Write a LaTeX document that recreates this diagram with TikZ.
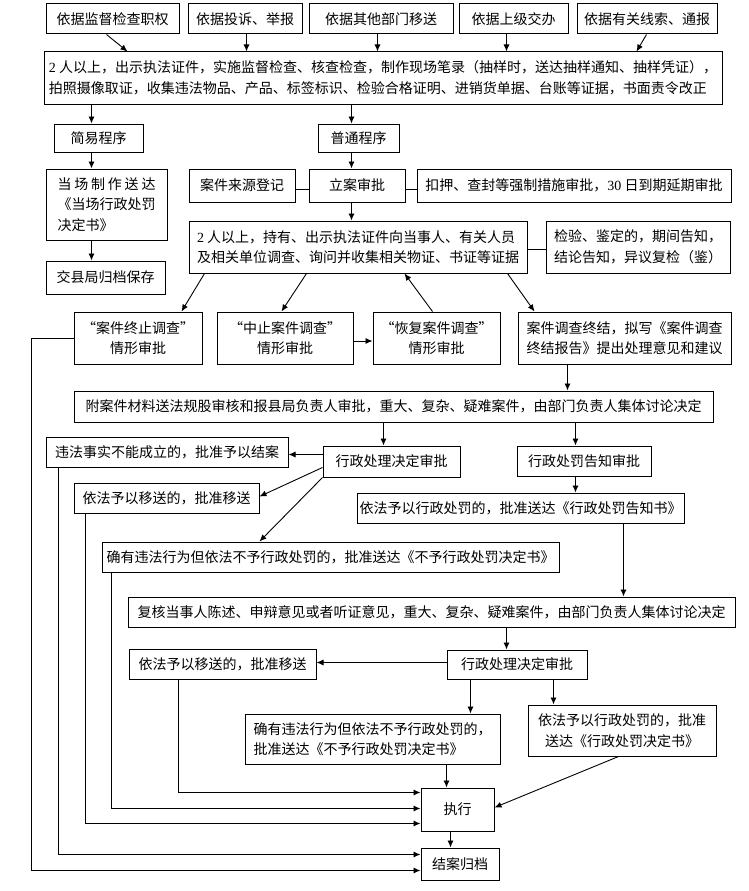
\documentclass[tikz,border=0pt]{standalone}
\usepackage{fontspec}
\setmainfont{Noto Sans CJK SC}
\newfontfamily\numfont{Liberation Serif}
\usetikzlibrary{arrows.meta, positioning, calc}

\begin{document}
\begin{tikzpicture}[
    x=1pt, y=-1pt,
    box/.style={rectangle, draw=black, line width=1pt, inner sep=0pt,
                align=center, font=\fontsize{14pt}{20.5pt}\selectfont},
    arrow/.style={-{Latex[length=7pt,width=6pt]}, line width=0.9pt},
    link/.style={line width=0.9pt}
]
\useasboundingbox[fill=white] (0,0) rectangle (748,891);

% Case sources
\node[box, minimum width=133pt, minimum height=30pt] (src1) at (112.5,19) {依据监督检查职权};
\node[box, minimum width=114pt, minimum height=30pt] (src2) at (245,19) {依据投诉、举报};
\node[box, minimum width=144pt, minimum height=30pt] (src3) at (381,19) {依据其他部门移送};
\node[box, minimum width=109pt, minimum height=30pt] (src4) at (513.5,19) {依据上级交办};
\node[box, minimum width=140pt, minimum height=30pt] (src5) at (647,19) {依据有关线索、通报};

% On-site inspection
\node[box, minimum width=678pt, minimum height=52pt, align=left] (insp) at (383,78)
      {{\numfont 2} 人以上，出示执法证件，实施监督检查、核查检查，制作现场笔录（抽样时，送达抽样通知、抽样凭证），\\
       拍照摄像取证，收集违法物品、产品、标签标识、检验合格证明、进销货单据、台账等证据，书面责令改正};

% Simple procedure
\node[box, minimum width=89pt, minimum height=28pt] (simple) at (98.5,138) {简易程序};
\node[box, minimum width=121pt, minimum height=71pt, align=left] (onsite) at (106.5,204.5)
      {\makebox[7em]{当\hfill 场\hfill 制\hfill 作\hfill 送\hfill 达}\\《当场行政处罚\\决定书》};
\node[box, minimum width=119pt, minimum height=33pt] (archive) at (105.5,277.5) {交县局归档保存};

% Normal procedure
\node[box, minimum width=81pt, minimum height=28pt] (normal) at (358.5,138) {普通程序};
\node[box, minimum width=106pt, minimum height=33pt] (source) at (242,185.5) {案件来源登记};
\node[box, minimum width=96pt, minimum height=33pt] (filing) at (357,185.5) {立案审批};
\node[box, minimum width=314pt, minimum height=33pt] (seize) at (574,185.5)
      {扣押、查封等强制措施审批，{\numfont 30} 日到期延期审批};
\node[box, minimum width=338pt, minimum height=52pt, align=left] (investigate) at (358,247)
      {{\numfont 2} 人以上，持有、出示执法证件向当事人、有关人员\\及相关单位调查、询问并收集相关物证、书证等证据};
\node[box, minimum width=184pt, minimum height=52pt, align=left] (testing) at (638,247)
      {检验、鉴定的，期间告知，\\结论告知，异议复检（鉴）};

% Investigation outcomes
\node[box, minimum width=128pt, minimum height=52pt] (terminate) at (138,338) {“案件终止调查”\\情形审批};
\node[box, minimum width=136pt, minimum height=52pt] (suspend) at (285,338) {“中止案件调查”\\情形审批};
\node[box, minimum width=127pt, minimum height=52pt] (resume) at (436.5,338) {“恢复案件调查”\\情形审批};
\node[box, minimum width=213pt, minimum height=52pt, align=left] (conclude) at (624.5,338)
      {案件调查终结，拟写《案件调查\\终结报告》提出处理意见和建议};

% Review and decisions
\node[box, minimum width=639pt, minimum height=31pt] (review) at (393.5,406.5)
      {附案件材料送法规股审核和报县局负责人审批，重大、复杂、疑难案件，由部门负责人集体讨论决定};
\node[box, minimum width=242pt, minimum height=30pt] (nofact) at (167,452) {违法事实不能成立的，批准予以结案};
\node[box, minimum width=137pt, minimum height=31pt] (decideA) at (391.5,461.5) {行政处理决定审批};
\node[box, minimum width=134pt, minimum height=30pt] (notice) at (584,461) {行政处罚告知审批};
\node[box, minimum width=185pt, minimum height=30pt] (transferA) at (166.5,498) {依法予以移送的，批准移送};
\node[box, minimum width=327pt, minimum height=30pt] (noticebook) at (520.5,508)
      {依法予以行政处罚的，批准送达《行政处罚告知书》};
\node[box, minimum width=457pt, minimum height=30pt] (nopenaltyA) at (330.5,557)
      {确有违法行为但依法不予行政处罚的，批准送达《不予行政处罚决定书》};

% After hearing
\node[box, minimum width=607pt, minimum height=30pt] (recheck) at (431.5,612)
      {复核当事人陈述、申辩意见或者听证意见，重大、复杂、疑难案件，由部门负责人集体讨论决定};
\node[box, minimum width=140pt, minimum height=29pt] (decideB) at (517,664.5) {行政处理决定审批};
\node[box, minimum width=187pt, minimum height=30pt] (transferB) at (222.5,664) {依法予以移送的，批准移送};
\node[box, minimum width=255pt, minimum height=50pt, align=left] (nopenaltyB) at (372.5,739)
      {确有违法行为但依法不予行政处罚的，\\批准送达《不予行政处罚决定书》};
\node[box, minimum width=188pt, minimum height=51pt] (penalty) at (622,730.5)
      {依法予以行政处罚的，批准\\送达《行政处罚决定书》};
\node[box, minimum width=73pt, minimum height=43pt] (execute) at (457.5,809.5) {执行};
\node[box, minimum width=78pt, minimum height=32pt] (close) at (460,864) {结案归档};

% Sources -> inspection
\draw[arrow] ($(src1.south west)+(61,0)$) -- ($(insp.north west)+(84,0)$);
\draw[arrow] ($(src2.south west)+(59,0)$) -- ($(insp.north west)+(203,0)$);
\draw[arrow] ($(src3.south west)+(69,0)$) -- ($(insp.north west)+(334,0)$);
\draw[arrow] ($(src4.south west)+(48,0)$) -- ($(insp.north west)+(463,0)$);
\draw[arrow] ($(src5.south west)+(70,0)$) -- ($(insp.north west)+(593,0)$);

% Simple procedure chain
\draw[arrow] ($(insp.south west)+(48,0)$) -- ($(simple.north west)+(38,0)$);
\draw[arrow] ($(simple.south west)+(38,0)$) -- ($(onsite.north west)+(46,0)$);
\draw[arrow] ($(onsite.south west)+(46,0)$) -- ($(archive.north west)+(46,0)$);

% Normal procedure chain
\draw[arrow] ($(insp.south west)+(308,0)$) -- ($(normal.north west)+(34,0)$);
\draw[arrow] ($(normal.south west)+(34,0)$) -- ($(filing.north west)+(43,0)$);
\draw[arrow] ($(filing.south west)+(43,0)$) -- ($(investigate.north west)+(163,0)$);
\draw[link] ($(source.east)+(0,4)$) -- ($(filing.west)+(0,4)$);
\draw[link] ($(filing.east)+(0,4)$) -- ($(seize.west)+(0,4)$);
\draw[link] ($(investigate.east)+(0,2)$) -- ($(testing.west)+(0,2)$);

% Investigation branches
\draw[arrow] ($(investigate.south west)+(16,0)$) -- ($(terminate.north west)+(108,0)$);
\draw[arrow] ($(investigate.south west)+(118,0)$) -- ($(suspend.north west)+(65,0)$);
\draw[arrow] ($(resume.north west)+(60,0)$) -- ($(investigate.south west)+(216,0)$);
\draw[arrow] ($(investigate.south west)+(319,0)$) -- ($(conclude.north west)+(17,0)$);
\draw[arrow] ($(suspend.east)+(0,3)$) -- ($(resume.west)+(0,3)$);
\draw[arrow] ($(conclude.south west)+(50,0)$) -- ($(review.north west)+(494,0)$);

% Review -> decisions
\draw[arrow] ($(review.south west)+(310,0)$) -- ($(decideA.north west)+(61,0)$);
\draw[arrow] ($(review.south west)+(502,0)$) -- ($(notice.north west)+(59,0)$);
\draw[arrow] ($(decideA.north west)+(0,9)$) -- ($(nofact.north east)+(0,18)$);
\draw[arrow] ($(decideA.north west)+(0,22)$) -- ($(transferA.north east)+(0,14)$);
\draw[arrow] (decideA.south west) -- ($(nopenaltyA.north west)+(158,0)$);
\draw[arrow] ($(notice.south west)+(59,0)$) -- ($(noticebook.north west)+(219,0)$);
\draw[arrow] ($(noticebook.south west)+(267,0)$) -- ($(recheck.north west)+(496,0)$);

% After hearing
\draw[arrow] ($(recheck.south west)+(379,0)$) -- ($(decideB.north west)+(60,0)$);
\draw[arrow] ($(decideB.north west)+(0,13)$) -- ($(transferB.north east)+(0,14)$);
\draw[arrow] ($(decideB.south west)+(24,0)$) -- ($(nopenaltyB.north west)+(226,0)$);
\draw[arrow] ($(decideB.south west)+(107,0)$) -- ($(penalty.north west)+(26,0)$);
\draw[arrow] ($(nopenaltyB.south west)+(202,0)$) -- ($(execute.north west)+(26,0)$);
\draw[arrow] ($(penalty.south west)+(91,0)$) -- ($(execute.north east)+(0,20)$);
\draw[arrow] ($(execute.south west)+(30,0)$) -- ($(close.north west)+(30,0)$);

% Rails on the left
\draw[arrow] (terminate.west) -- ++(-42,0) |- ($(close.north west)+(0,23)$);
\draw[arrow] ($(nofact.south west)+(13,0)$) |- ($(close.north west)+(0,7)$);
\draw[arrow] ($(transferA.south west)+(12,0)$) |- ($(execute.north west)+(0,36)$);
\draw[arrow] ($(nopenaltyA.south west)+(10,0)$) |- ($(execute.north west)+(0,21)$);
\draw[arrow] ($(transferB.south west)+(50,0)$) |- ($(execute.north west)+(0,5)$);

\end{tikzpicture}
\end{document}
